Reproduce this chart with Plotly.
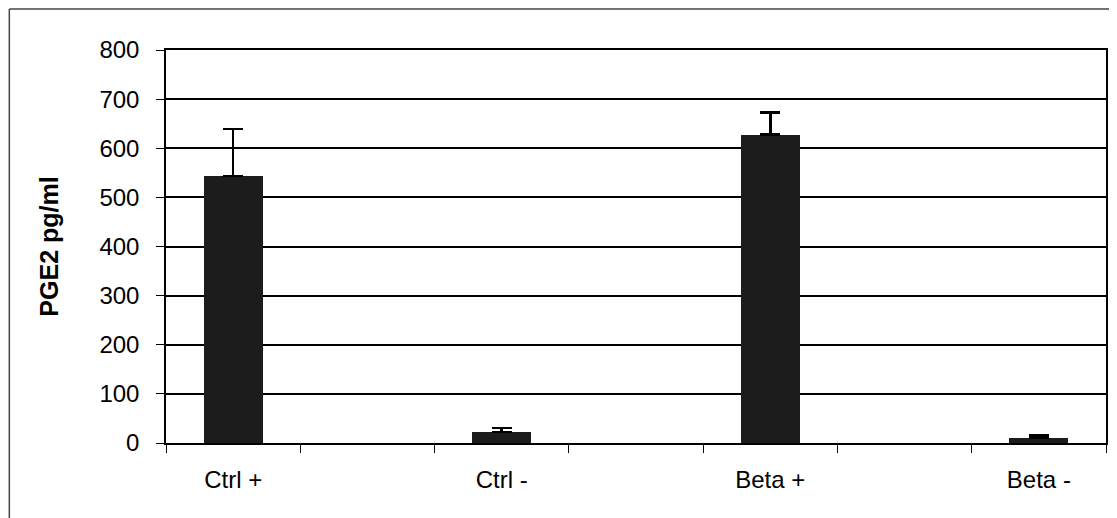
import plotly.graph_objects as go

categories = ["Ctrl +", "Ctrl -", "Beta +", "Beta -"]
values = [544, 22, 628, 11]
errors_up = [95, 9, 45, 5]
y_ticks = [0, 100, 200, 300, 400, 500, 600, 700, 800]

# each category sits in every other slot of a 7-slot axis (as in the original)
slot = [2 * i for i in range(len(categories))]

OFF = 8  # page body margin in the browser
W, H = 1117 - OFF, 518 - OFF
L, R, T, B = 166 - OFF, 9, 50 - OFF, 75
pw, ph = W - L - R, H - T - B

fig = go.Figure()
fig.add_trace(go.Bar(
    x=slot, y=values, width=[0.44] * len(values),
    marker=dict(color="#1c1c1c", line=dict(width=0)),
    error_y=dict(type="data", symmetric=False, array=errors_up,
                 arrayminus=[0] * len(values), color="black",
                 thickness=2.5, width=10),
    showlegend=False,
))

fig.update_layout(
    width=W, height=H,
    margin=dict(l=L, r=R, t=T, b=B),
    paper_bgcolor="white", plot_bgcolor="white",
    font=dict(family="Liberation Sans, Arial, sans-serif", color="black"),
    bargap=0,
)
fig.update_xaxes(
    range=[-0.5, 6.5], tickvals=slot, ticktext=categories,
    ticks="", showgrid=False, zeroline=False,
    showline=True, linecolor="black", linewidth=1.5, mirror=True,
    tickfont=dict(size=24), ticklabelstandoff=14,
    minor=dict(tick0=0.5, dtick=1, ticks="outside", ticklen=8,
               tickcolor="black", tickwidth=1, showgrid=False),
)
fig.update_yaxes(
    range=[0, 800], tickvals=y_ticks,
    ticks="outside", ticklen=8, tickcolor="black", tickwidth=1,
    showgrid=True, gridcolor="black", gridwidth=1.5,
    zeroline=False, showline=True, linecolor="black", linewidth=1.5, mirror=True,
    tickfont=dict(size=24), ticklabelstandoff=12,
    title=dict(text="<b>PGE2 pg/ml</b>", font=dict(size=25), standoff=34),
)

# outer chart frame (left and top edges visible)
x_left = (1 - L) / pw
y_top = (H - B - 1) / ph
fig.add_shape(type="line", xref="paper", yref="paper",
              x0=x_left, x1=x_left, y0=-0.3, y1=y_top,
              line=dict(color="#444", width=1.5))
fig.add_shape(type="line", xref="paper", yref="paper",
              x0=x_left, x1=1.1, y0=y_top, y1=y_top,
              line=dict(color="#444", width=1.5))

fig.write_html("out.html")
